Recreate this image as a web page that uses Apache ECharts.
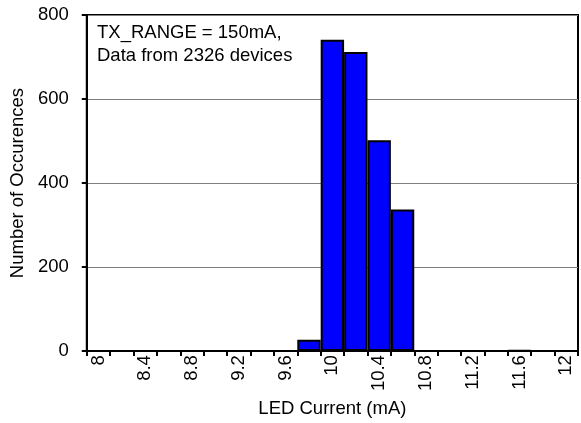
<!DOCTYPE html>
<html>
<head>
<meta charset="utf-8">
<script src="https://cdn.jsdelivr.net/npm/echarts@6/dist/echarts.min.js"></script>
<style>
html,body{margin:0;padding:0;background:#fff;}
#chart{width:581px;height:423px;}
</style>
</head>
<body>
<div id="chart"></div>
<script>
const categories = ['8','8.2','8.4','8.6','8.8','9','9.2','9.4','9.6','9.8','10','10.2','10.4','10.6','10.8','11','11.2','11.4','11.6','11.8','12'];
const counts =     [0,  0,    0,    0,    0,    0,  0,    0,    0,    27,   741, 712,   502,   337,   0,     0,   0,     1,     2,     0,     0];
const yTicks = [0, 200, 400, 600, 800];
const annotationLines = ['TX_RANGE = 150mA,', 'Data from 2326 devices'];
const xTitle = 'LED Current (mA)';
const yTitle = 'Number of Occurences';

const FONT = 'Liberation Sans, Arial, sans-serif';
const FS = 18.5;
const chart = echarts.init(document.getElementById('chart'), null, {renderer: 'canvas'});
chart.setOption({
  animation: false,
  backgroundColor: '#fff',
  grid: {left: 86, right: 3, top: 15, bottom: 71, show: true, borderColor: '#000', borderWidth: 2, backgroundColor: 'transparent'},
  xAxis: {
    type: 'category',
    data: categories,
    boundaryGap: true,
    name: xTitle,
    nameLocation: 'middle',
    nameGap: 45,
    nameTextStyle: {fontFamily: FONT, fontSize: FS, color: '#000'},
    axisLine: {lineStyle: {color: '#000', width: 2}},
    axisTick: {show: true, interval: 0, length: 5, lineStyle: {color: '#000', width: 2}},
    axisLabel: {interval: 1, rotate: 90, margin: 4, fontFamily: FONT, fontSize: FS, color: '#000'},
    splitLine: {show: false}
  },
  yAxis: {
    type: 'value',
    min: yTicks[0],
    max: yTicks[yTicks.length - 1],
    interval: yTicks[1] - yTicks[0],
    name: yTitle,
    nameLocation: 'middle',
    nameGap: 57,
    nameTextStyle: {fontFamily: FONT, fontSize: FS, color: '#000'},
    axisLine: {show: true, lineStyle: {color: '#000', width: 2}},
    axisTick: {show: true, length: 5, lineStyle: {color: '#000', width: 2}},
    axisLabel: {margin: 18, fontFamily: FONT, fontSize: FS, color: '#000'},
    splitLine: {show: true, lineStyle: {color: '#808080', width: 1}}
  },
  series: [{
    type: 'bar',
    data: counts,
    barCategoryGap: '0%',
    itemStyle: {color: '#0000FF', borderColor: '#000', borderWidth: 2}
  }],
  graphic: [{
    type: 'text',
    left: 97,
    top: 21,
    style: {text: annotationLines.join('\n'), font: FS + 'px ' + FONT, fill: '#000', lineHeight: 23.5}
  }]
});
</script>
</body>
</html>
